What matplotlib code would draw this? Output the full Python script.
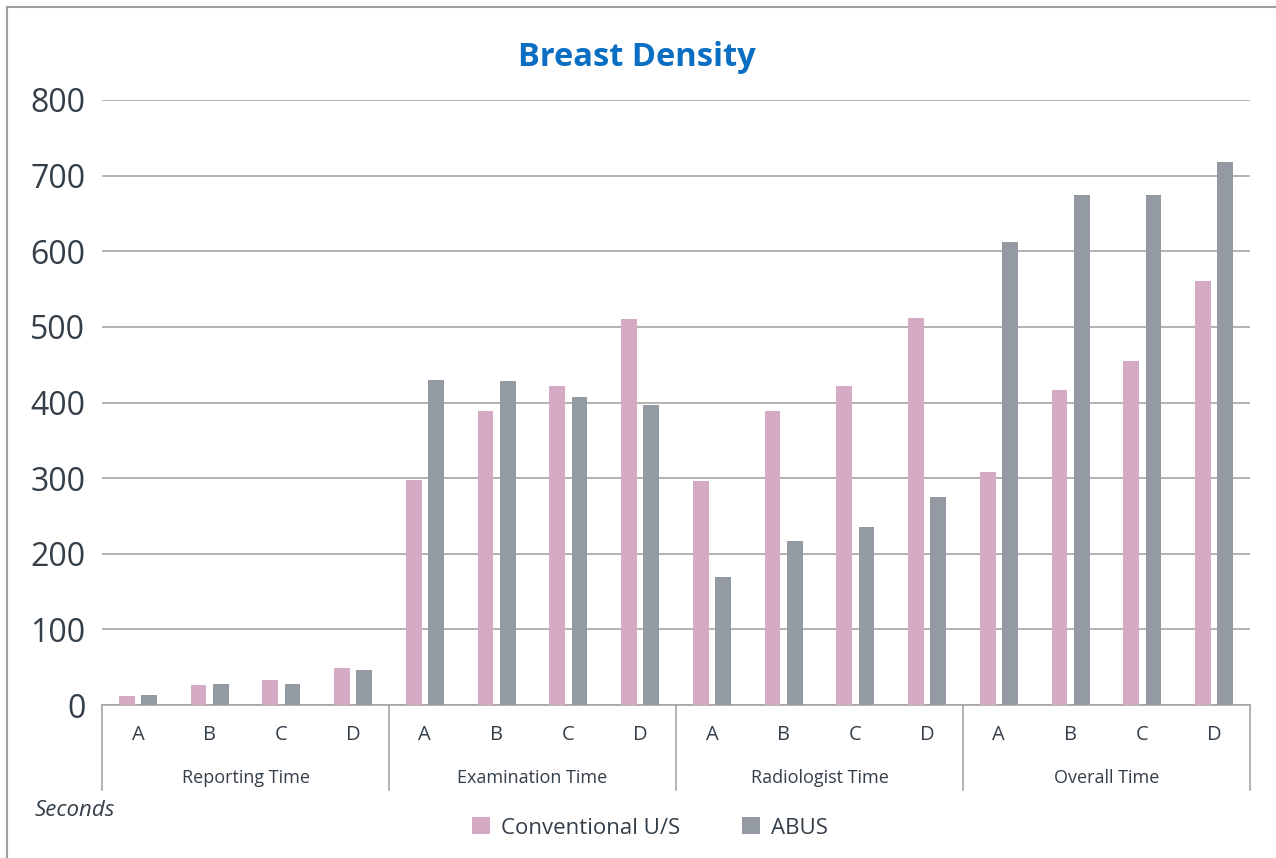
import numpy as np
import matplotlib
matplotlib.use("Agg")
import matplotlib.pyplot as plt
from matplotlib.patches import Rectangle
import matplotlib.transforms as mtransforms

plt.rcParams['font.family'] = ['Open Sans', 'DejaVu Sans']

groups = ['Reporting Time', 'Examination Time', 'Radiologist Time', 'Overall Time']
subcats = ['A', 'B', 'C', 'D']
conventional = [12, 26, 33, 49,
                298, 389, 422, 511,
                296, 389, 422, 512,
                308, 416, 455, 561]
abus = [13, 28, 28, 46,
        430, 428, 407, 397,
        169, 217, 235, 275,
        612, 674, 674, 718]

pink = '#D5ABC4'
grey = '#949AA1'
text_col = '#343E48'

fig = plt.figure(figsize=(12.76, 8.58), dpi=100)
fig.patches.append(Rectangle((7/1276, -0.1), 1.2, 1.1 - 7/858, transform=fig.transFigure,
                             fill=False, edgecolor='#A0A0A0', linewidth=1.5))
ax = fig.add_axes([102/1276, 1 - 705/858, 1148/1276, 605/858])

x = np.arange(len(conventional))
w = 0.22
ax.bar(x - 0.155, conventional, w, color=pink, label='Conventional U/S', zorder=3)
ax.bar(x + 0.155, abus, w, color=grey, label='ABUS', zorder=3)

ax.set_xlim(-0.5, len(x) - 0.5)
ax.set_ylim(0, 800)
ax.set_yticks(range(0, 801, 100))
ax.yaxis.grid(True, color='#A5A5A5', linewidth=1.2, zorder=0)
ax.tick_params(axis='y', length=0, labelsize=23, labelcolor=text_col, pad=12)
ax.tick_params(axis='x', length=0, labelbottom=False)
for s in ['top', 'right', 'left']:
    ax.spines[s].set_visible(False)
ax.spines['bottom'].set_color('#A5A5A5')
ax.spines['bottom'].set_linewidth(1.2)

trans = mtransforms.blended_transform_factory(ax.transData, ax.transAxes)
for i in x:
    ax.text(i, -0.05, subcats[i % 4], transform=trans, ha='center', va='center',
            fontsize=14.5, color=text_col)
for g, name in enumerate(groups):
    ax.text(g * 4 + 1.5, -0.12, name, transform=trans, ha='center', va='center',
            fontsize=13, color=text_col)
for b in np.arange(-0.5, len(x), 4):
    ax.plot([b, b], [0, -0.14], transform=trans, color='#A5A5A5', linewidth=1.2,
            clip_on=False)

fig.text(637/1276, 1 - 57/858, 'Breast Density', ha='center', va='center',
         fontsize=23.5, fontweight='bold', color='#0A6FC2')
fig.text(35/1276, 1 - 810/858, 'Seconds', ha='left', va='center',
         fontsize=16, style='italic', color=text_col)
fig.legend(loc='center', bbox_to_anchor=(650/1276, 1 - 828/858), ncol=2, frameon=False,
           fontsize=16, handlelength=0.8, handleheight=0.8, columnspacing=2.8,
           handletextpad=0.5, labelcolor=text_col)

fig.savefig('out.png', dpi=100)
